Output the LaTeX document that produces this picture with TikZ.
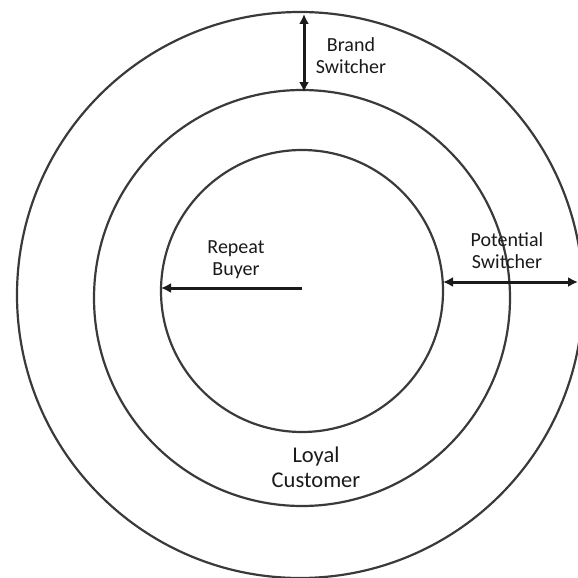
\documentclass[tikz,border=0pt]{standalone}
\usepackage{fontspec}
\setmainfont{Carlito}
\usetikzlibrary{arrows.meta, positioning}
\definecolor{ringgray}{HTML}{3A3A3A}
\definecolor{inkdark}{HTML}{1A1A1A}

\begin{document}
\begin{tikzpicture}[
  x=1pt, y=-1pt,
  ring/.style={circle, draw=ringgray, line width=2.2pt, inner sep=0pt, outer sep=0pt},
  arrow/.style={line width=3pt, color=inkdark, -{Latex[length=10pt,width=10pt]}},
  twoway/.style={line width=3pt, color=inkdark, {Latex[length=10pt,width=10pt]}-{Latex[length=10pt,width=10pt]}},
  lbl/.style={font=\fontsize{20}{22}\selectfont, color=inkdark, align=center, inner sep=0pt},
  biglbl/.style={font=\fontsize{22.5}{25}\selectfont, color=inkdark, align=center, inner sep=0pt},
]
\useasboundingbox (0,0) rectangle (578,578);
\clip (0,0) rectangle (578,578);

\node[ring, minimum size=566pt] (outer) at (300,295) {};
\node[ring, minimum size=416pt] (middle) at (302,298) {};
\node[ring, minimum size=282pt] (inner) at (302,291) {};

\coordinate (core) at (302,288);
\coordinate (edge) at (578,282);
\coordinate (ptop) at (304,14);
\coordinate (pbot) at (304,92);

\draw[twoway] (pbot) -- (ptop);
\draw[arrow] (core) -- (core -| inner.west);
\draw[twoway] (edge -| inner.east) -- (edge);

\node[lbl] (brand) at (351,56) {Brand\\Switcher};
\node[lbl] (repeat) at (236,260) {Repeat\\Buyer};
\node[lbl] (potential) at (507,251) {Potential\\Switcher};
\node[biglbl] (loyal) at (316,467) {Loyal\\Customer};
\end{tikzpicture}
\end{document}
